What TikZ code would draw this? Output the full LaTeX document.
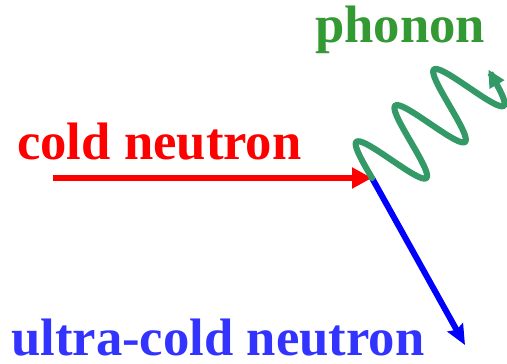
\documentclass[tikz,border=0pt]{standalone}
\usepackage{fontspec}
\setmainfont{Liberation Serif}
\usepackage{xcolor}
\usetikzlibrary{arrows.meta}
\definecolor{phgreen}{RGB}{51,153,51}
\definecolor{wavegreen}{RGB}{51,153,102}
\definecolor{ucnblue}{RGB}{51,51,255}
\tikzset{
  % --- labels ----------------------------------------------------------------
  lab/.style={anchor=base west,inner sep=0pt,font=\fontsize{39.5}{40}\selectfont\bfseries},
  % --- particle lines --------------------------------------------------------
  coldline/.style={red,line width=5.2pt,-{Triangle[length=15pt,width=15pt]}},
  ucnline/.style={blue,line width=4.5pt,-{Stealth[length=15pt,width=13pt,inset=2pt]}},
  phline/.style={wavegreen,line width=4.6pt,line cap=round,
                 -{Triangle[length=13pt,width=12pt]}},
}
\begin{document}
\begin{tikzpicture}[x=0.75pt,y=0.75pt]
  \useasboundingbox (0,0) rectangle (507,364);

  \node[lab,text=red]      (cold)   at (17,204) {cold neutron};
  \node[lab,text=ucnblue,text depth=0pt] (ucn) at (11,8) {ultra-cold neutron};
  \node[lab,text=phgreen]  (phonon) at (315,321) {phonon};

  \coordinate (src) at (53,186);
  \coordinate (J)   at (372,186);
  \coordinate (out) at (465,19);

  \draw[coldline] (src) -- (J);
  \draw[ucnline]  (J) -- (out);
  % phonon: three wavelengths of 53 along a 43 degree axis
  \begin{scope}[shift={(J)},rotate=43]
    \draw[phline] plot[domain=0:159,samples=140,smooth] (\x,{37*sin(6.7925*\x)});
  \end{scope}
\end{tikzpicture}
\end{document}
